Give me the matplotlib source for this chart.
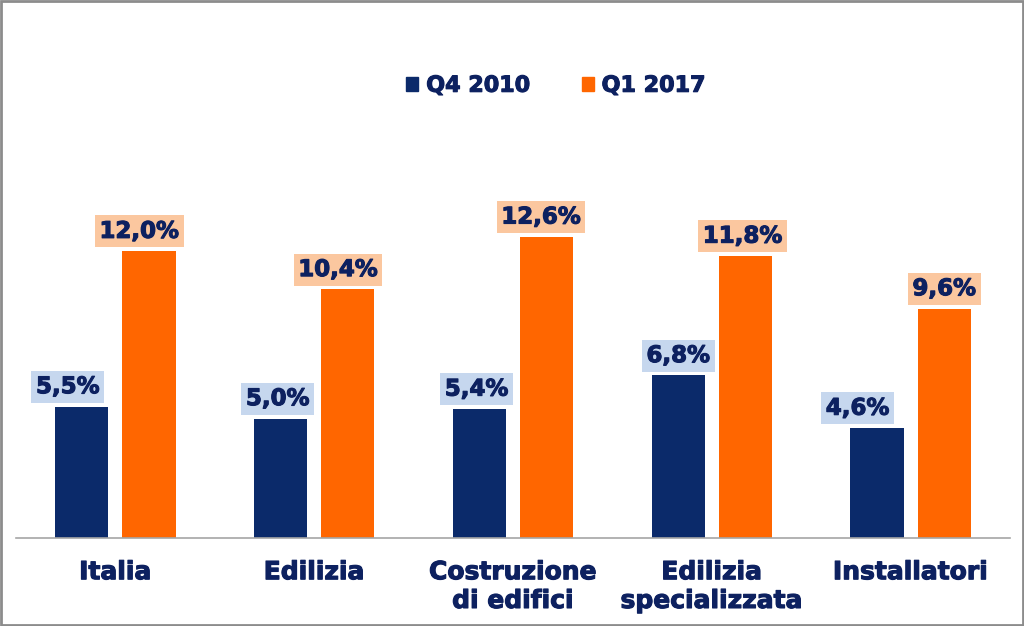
import numpy as np
from matplotlib import pyplot as plt
from matplotlib.patches import Patch
import matplotlib.patheffects as pe

# data
categories = ['Italia', 'Edilizia', 'Costruzione\ndi edifici', 'Edilizia\nspecializzata', 'Installatori']
q4_2010 = [5.5, 5.0, 5.4, 6.8, 4.6]
q1_2017 = [12.0, 10.4, 12.6, 11.8, 9.6]
series_names = ['Q4 2010', 'Q1 2017']

# label nudges (points), as placed in the original
q4_dx = [-10, -2, -2, 0, -14]
q1_dx = [-7, -7, -4, -2, 0]

navy = '#0b2a6a'
orange = '#ff6600'
txt = '#0d2160'
heavy = [pe.withStroke(linewidth=0.8, foreground=txt)]

plt.rcParams['font.family'] = ['DejaVu Sans']
fig = plt.figure(figsize=(10.24, 6.26), dpi=100)
ax = fig.add_axes([16/1024, 88/626, 994/1024, 478/626])

x = np.arange(len(categories))
w = 0.267
off = 0.169
b1 = ax.bar(x - off, q4_2010, w, color=navy)
b2 = ax.bar(x + off, q1_2017, w, color=orange)

def fmt(v):
    return ('%.1f%%' % v).replace('.', ',')

for bars, vals, dxs, bg in [(b1, q4_2010, q4_dx, '#c6d7ee'), (b2, q1_2017, q1_dx, '#fbc79f')]:
    for r, v, dx in zip(bars, vals, dxs):
        ax.annotate(fmt(v), (r.get_x() + r.get_width()/2, v), xytext=(dx, 6),
                    textcoords='offset points', ha='center', va='bottom',
                    fontsize=16.5, fontweight='bold', color=txt, path_effects=heavy,
                    bbox=dict(boxstyle='square,pad=0.2', fc=bg, ec='none'))

ax.set_xlim(-0.5, len(categories) - 0.5)
ax.set_ylim(0, 20)
ax.set_yticks([])
ax.set_xticks(x)
ax.set_xticklabels(categories, fontsize=18, fontweight='bold', color=txt, linespacing=1.25)
for t in ax.get_xticklabels():
    t.set_path_effects(heavy)
ax.tick_params(axis='x', length=0, pad=16)
for s in ['top', 'right', 'left']:
    ax.spines[s].set_visible(False)
ax.spines['bottom'].set_color('#a6a6a6')
ax.spines['bottom'].set_linewidth(1.2)

handles = [Patch(color=navy), Patch(color=orange)]
leg = fig.legend(handles, series_names, loc='center', bbox_to_anchor=(0.543, 0.863), ncol=2,
                 frameon=False, handlelength=0.55, handleheight=0.55, handletextpad=0.35,
                 columnspacing=2.3, prop=dict(size=16, weight='bold'))
for t in leg.get_texts():
    t.set_color(txt)
    t.set_path_effects(heavy)

# outer frame
fig.patches.append(plt.Rectangle((0.001, 0.002), 0.998, 0.996, transform=fig.transFigure,
                                 fill=False, ec='#8c8c8c', lw=2))

fig.savefig('out.png', dpi=100)
